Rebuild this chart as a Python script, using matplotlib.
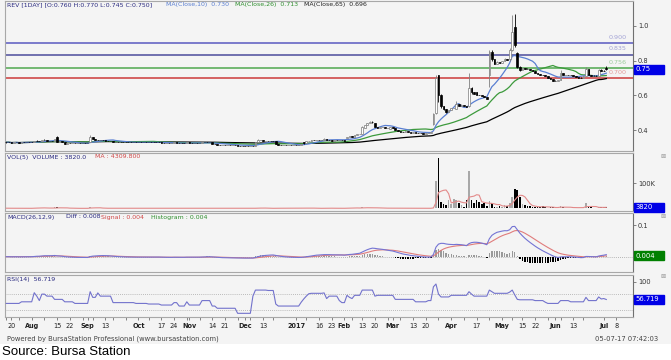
import matplotlib.pyplot as plt
from matplotlib.patches import Rectangle
import numpy as np
import pandas as pd

W, H = 671, 360

# Bursa trading calendar, Jul 2016 - Jul 2017
holidays = ['2016-08-31', '2016-09-12', '2016-09-16', '2016-10-03', '2016-12-12',
            '2016-12-26', '2017-01-02', '2017-01-30', '2017-01-31', '2017-02-09',
            '2017-05-01', '2017-05-10', '2017-06-12', '2017-06-26', '2017-06-27']
days = pd.bdate_range('2016-07-18', '2017-07-04')
days = days[~days.isin(pd.to_datetime(holidays))]
all_days = days.append(pd.date_range('2017-07-05', '2017-07-14'))

# daily prices in sen
opens = [33, 33, 33, 32.5, 33, 33, 32.5, 33, 33, 33, 33,
         33, 34, 34, 33.5, 34.5, 34.5, 34, 34, 34, 36,
         33, 33.5, 33, 32, 32.5, 32.5, 32.5, 32.5, 32.5, 32.5,
         32.5, 32.5, 33, 36, 35, 34.5, 34.5, 34.5, 34.5, 34,
         34, 33.5, 33, 33, 33, 33, 33, 33, 33, 33,
         33, 33, 33, 33, 33, 33, 33, 33, 33, 33,
         33, 32.5, 32.5, 32.5, 32.5, 32.5, 33, 32.5, 32.5, 32.5,
         32.5, 33, 32.5, 32.5, 32.5, 32.5, 32.5, 33, 33, 33,
         33, 32, 32, 31.5, 31.5, 31.5, 31.5, 31.5, 31.5, 31.5,
         31.5, 31, 31, 31, 31, 31, 31, 31, 33, 34.5,
         34.5, 34, 34, 34, 34, 34, 32, 31.5, 31.5, 31.5,
         31.5, 31.5, 31.5, 31.5, 31.5, 31.5, 33, 32.5, 33.5, 34,
         34.5, 34.5, 34.5, 34.5, 34.5, 35, 34.5, 34.5, 34, 34.5,
         34.5, 34.5, 34.5, 35.5, 36, 36.5, 36, 37, 37.5, 38,
         41, 43, 44, 44.5, 44, 42, 41.5, 42, 42, 41.5,
         40.5, 42, 41.5, 40, 39.5, 39, 39, 39.5, 39, 38.5,
         39, 38.5, 38.5, 38.5, 38, 38.5, 38.5, 43.5, 50, 71.5,
         60, 54, 52, 50.5, 51.5, 52.5, 52, 55, 54, 54.5,
         54, 54, 64.5, 62, 62, 60.5, 60, 59.5, 59, 72,
         85, 81, 78, 79, 78.5, 80, 81, 81, 86, 99.5,
         84.5, 76.5, 74.5, 75.5, 75, 75, 74.5, 74, 73, 72.5,
         72, 71.5, 71, 70, 69.5, 68.5, 68.5, 69, 73, 72,
         71.5, 71.5, 71.5, 71, 70.5, 70, 70, 71, 75, 71.5,
         71, 71, 71, 74.5, 74, 76]
highs = [33, 33, 33, 33, 33, 33, 33, 33, 33, 33, 33,
         34, 34.5, 34, 34.5, 35, 34.5, 34, 34, 35, 36.5,
         33.5, 33.5, 33, 32.5, 32.5, 32.5, 32.5, 32.5, 32.5, 32.5,
         32.5, 32.5, 37, 36, 35, 34.5, 34.5, 34.5, 34.5, 34,
         34, 33.5, 33, 33, 33, 33, 33, 33, 33, 33,
         33, 33, 33, 33, 33, 33, 33, 33, 33, 33,
         33, 32.5, 32.5, 32.5, 32.5, 33, 33, 32.5, 32.5, 32.5,
         33, 33, 32.5, 32.5, 32.5, 32.5, 33, 33, 33, 33,
         33, 32, 32, 31.5, 31.5, 31.5, 31.5, 31.5, 31.5, 31.5,
         31.5, 31, 31, 31, 31, 31, 31, 33, 35, 34.5,
         34.5, 34, 34, 34, 34, 34, 32, 31.5, 31.5, 31.5,
         31.5, 31.5, 31.5, 31.5, 31.5, 32, 33, 33.5, 34, 34.5,
         34.5, 34.5, 34.5, 34.5, 35.5, 35, 34.5, 34.5, 34.5, 34.5,
         34.5, 34.5, 34.5, 36, 36.5, 36.5, 37, 37.5, 38, 42.5,
         43, 44, 45, 45, 44, 42, 42, 42, 42, 41.5,
         42, 42, 41.5, 40, 39.5, 39, 39.5, 39.5, 39, 39,
         39, 38.5, 38.5, 38.5, 38.5, 38.5, 39, 50, 72, 72,
         61, 54, 52, 51.5, 52.5, 53, 56.5, 55, 55, 54.5,
         54, 73, 65, 62, 62, 60.5, 60, 59.5, 59, 86,
         86, 81, 79.5, 79, 80, 81.5, 81, 87, 106, 107,
         85, 77, 76, 75.5, 75.5, 75, 74.5, 74, 73, 72.5,
         72, 71.5, 71, 70, 69.5, 69, 69, 74.5, 73, 72,
         72, 72, 71.5, 71, 70.5, 70.5, 71, 76.5, 75, 71.5,
         71.5, 71.5, 75, 75, 74.5, 77]
lows = [32.5, 33, 32.5, 32.5, 33, 32.5, 32.5, 33, 33, 33, 33,
        33, 34, 33.5, 33.5, 34.5, 34, 34, 34, 34, 33,
        33, 33, 32, 32, 32.5, 32.5, 32.5, 32.5, 32.5, 32.5,
        32.5, 32.5, 33, 35, 34.5, 34.5, 34.5, 34.5, 34, 34,
        33.5, 33, 33, 33, 33, 33, 33, 33, 33, 33,
        33, 33, 33, 33, 33, 33, 33, 33, 33, 33,
        32.5, 32.5, 32.5, 32.5, 32.5, 32.5, 32.5, 32.5, 32.5, 32.5,
        32.5, 32.5, 32.5, 32.5, 32.5, 32.5, 32.5, 33, 33, 33,
        32, 32, 31.5, 31.5, 31.5, 31.5, 31.5, 31.5, 31.5, 31.5,
        31, 31, 31, 31, 31, 31, 31, 31, 33, 34.5,
        34, 34, 34, 34, 34, 32, 31.5, 31.5, 31.5, 31.5,
        31.5, 31.5, 31.5, 31.5, 31.5, 31.5, 32, 32.5, 33.5, 34,
        34.5, 34.5, 34.5, 34.5, 34.5, 34.5, 34.5, 34, 34, 34.5,
        34.5, 34.5, 34, 35.5, 36, 36, 36, 37, 37.5, 38,
        41, 43, 44, 44, 42, 41.5, 41.5, 42, 41.5, 41,
        40.5, 41.5, 40, 39.5, 39, 39, 39, 39, 38.5, 38.5,
        38.5, 38.5, 38.5, 38, 38, 38.5, 38.5, 43, 49, 56,
        53, 51.5, 50, 50.5, 51.5, 52.5, 52, 54, 54, 54,
        53.5, 53.5, 61, 61, 60, 60, 59.5, 59, 58, 65,
        80, 78, 78, 78.5, 78.5, 80, 80.5, 80, 85.5, 88,
        76, 74, 74.5, 75, 75, 74.5, 74, 73, 72.5, 72,
        71.5, 71, 70, 69.5, 68.5, 68, 68.5, 69, 72, 71.5,
        71.5, 71.5, 71, 70.5, 70, 70, 70, 71, 71.5, 71,
        71, 71, 71, 74, 74, 74.5]
closes = [33, 33, 32.5, 33, 33, 32.5, 33, 33, 33, 33, 33,
          34, 34, 33.5, 34.5, 34.5, 34, 34, 34, 35, 33,
          33.5, 33, 32, 32.5, 32.5, 32.5, 32.5, 32.5, 32.5, 32.5,
          32.5, 32.5, 36, 35, 34.5, 34.5, 34.5, 34.5, 34, 34,
          33.5, 33, 33, 33, 33, 33, 33, 33, 33, 33,
          33, 33, 33, 33, 33, 33, 33, 33, 33, 33,
          32.5, 32.5, 32.5, 32.5, 32.5, 33, 32.5, 32.5, 32.5, 32.5,
          33, 32.5, 32.5, 32.5, 32.5, 32.5, 33, 33, 33, 33,
          32, 32, 31.5, 31.5, 31.5, 31.5, 31.5, 31.5, 31.5, 31.5,
          31, 31, 31, 31, 31, 31, 31, 33, 34.5, 34.5,
          34, 34, 34, 34, 34, 32, 31.5, 31.5, 31.5, 31.5,
          31.5, 31.5, 31.5, 31.5, 31.5, 32, 32.5, 33.5, 34, 34.5,
          34.5, 34.5, 34.5, 34.5, 35, 34.5, 34.5, 34, 34.5, 34.5,
          34.5, 34.5, 34, 36, 36.5, 36, 37, 37.5, 38, 42,
          43, 44, 44.5, 44.5, 42, 41.5, 42, 42, 41.5, 41,
          42, 41.5, 40, 39.5, 39, 39, 39.5, 39, 38.5, 39,
          38.5, 38.5, 38.5, 38, 38.5, 38.5, 39, 49, 70, 60,
          54, 52, 50.5, 51.5, 52.5, 53, 55, 54, 54.5, 54,
          53.5, 64, 62, 61, 60.5, 60, 59.5, 59, 58, 85,
          81, 78, 79, 78.5, 80, 81, 80.5, 86, 96.5, 89,
          76.5, 74.5, 75.5, 75, 75, 74.5, 74, 73, 72.5, 72,
          71.5, 71, 70, 69.5, 68.5, 68.5, 69, 73, 72, 71.5,
          71.5, 71.5, 71, 70.5, 70, 70, 71, 75, 71.5, 71,
          71, 71, 74.5, 74, 74, 75]
# daily volume, thousands
volume_k = [1, 0.5, 1, 0.5, 0.5, 1, 0.5, 0.5, 0.5, 0.5, 1,
            3, 2, 1, 3, 2, 1, 1, 0.5, 4, 5,
            2, 1, 2, 1, 0.5, 0.5, 0.5, 0.5, 0.5, 0.5,
            0.5, 0.5, 6, 3, 2, 1, 1, 0.5, 1, 0.5,
            1, 1, 0.5, 0.5, 0.5, 0.5, 0.5, 0.5, 0.5, 0.5,
            0.5, 0.5, 0.5, 0.5, 0.5, 0.5, 0.5, 0.5, 0.5, 0.5,
            1, 0.5, 0.5, 0.5, 0.5, 1, 1, 0.5, 0.5, 0.5,
            1, 1, 0.5, 0.5, 0.5, 0.5, 1, 0.5, 0.5, 0.5,
            1, 0.5, 1, 0.5, 0.5, 0.5, 0.5, 0.5, 0.5, 0.5,
            1, 0.5, 0.5, 0.5, 0.5, 0.5, 0.5, 2, 3, 1,
            1, 0.5, 0.5, 0.5, 0.5, 2, 1, 0.5, 0.5, 0.5,
            0.5, 0.5, 0.5, 0.5, 0.5, 1, 2, 2, 1, 1,
            0.5, 0.5, 0.5, 0.5, 2, 1, 0.5, 1, 1, 0.5,
            0.5, 0.5, 1, 3, 2, 1, 2, 2, 2, 4,
            3, 3, 2, 2, 3, 2, 1, 1, 1, 1,
            2, 1, 2, 1, 1, 0.5, 1, 1, 1, 0.5,
            1, 0.5, 0.5, 1, 0.5, 0.5, 1, 7, 107, 197,
            27, 19, 13, 34, 17, 38, 33, 23, 13, 6,
            34, 146, 34, 23, 33, 26, 17, 20, 10, 30,
            23, 7, 7, 10, 6, 15, 8, 20, 44, 77,
            74, 44, 17, 15, 10, 8, 6, 7, 5, 6,
            10, 4, 3, 5, 4, 3, 4, 10, 5, 3,
            3, 3, 4, 3, 3, 3, 4, 23, 5, 4,
            3, 2.5, 7.5, 3.8, 3.93, 3.82]
rsi = [47, 47, 47, 47, 47, 47, 51, 51, 51, 51, 51,
       73.5, 65, 54, 70, 70, 65, 65, 65, 57, 57,
       57, 57, 51, 51, 51, 51, 47, 47, 47, 47,
       47, 47, 76, 62, 62, 73, 65, 65, 65, 65,
       65, 49, 49, 49, 49, 49, 49, 49, 49, 49,
       47, 47, 47, 47, 47, 45.5, 45.5, 45.5, 45.5, 45.5,
       43, 43, 43, 43, 43, 49, 49, 40.5, 40.5, 40.5,
       51, 43, 43, 43, 43, 43, 54, 54, 54, 54,
       40.5, 40.5, 35, 35, 35, 35, 35, 35, 35, 35,
       22.5, 22.5, 22.5, 22.5, 22.5, 22.5, 65, 80, 80, 80,
       80, 80, 79, 79, 79, 45.5, 40.5, 40.5, 40.5, 40.5,
       40.5, 40.5, 40.5, 40.5, 40.5, 50, 58, 65, 71, 72,
       72, 72, 72, 72, 73, 59, 65, 65, 65, 65,
       54, 49, 49, 67, 62, 59, 67, 67, 67, 80,
       80, 80, 80, 80, 65, 67, 67, 67, 67, 67,
       67, 67, 57, 57, 57, 57, 57, 57, 57, 57,
       51, 51, 51, 51, 51, 54, 54, 88, 95, 70,
       63, 63, 63, 63, 67, 67, 67, 67, 67, 67,
       67, 76, 70, 65, 65, 65, 65, 65, 65, 80,
       76, 72, 72, 72, 72, 72, 72, 75, 80, 68,
       57, 56, 56, 56, 56, 56, 56, 54, 54, 54,
       54, 50, 47, 47, 47, 47, 47, 54, 54, 54,
       54, 51, 51, 51, 51, 51, 51, 62, 54, 54,
       54, 54, 63, 58, 59, 56.719]

levels = [0.900, 0.835, 0.756, 0.700]
level_colors = ['#5a5ac0', '#4c4c9c', '#4fa84f', '#cc3a3a']
level_text_colors = ['#a4a4d6', '#a4a4d6', '#9ccc9c', '#e49a9a']

tick_dates = ['2016-07-20', '2016-08-01', '2016-08-15', '2016-08-22', '2016-09-01',
              '2016-09-13', '2016-10-04', '2016-10-17', '2016-10-24', '2016-11-01',
              '2016-11-14', '2016-11-21', '2016-12-01', '2016-12-13', '2017-01-03',
              '2017-01-16', '2017-01-23', '2017-02-01', '2017-02-13', '2017-02-20',
              '2017-03-01', '2017-03-13', '2017-03-20', '2017-04-03', '2017-04-17',
              '2017-05-02', '2017-05-15', '2017-05-22', '2017-06-01', '2017-06-13',
              '2017-07-03', '2017-07-08']
tick_labels = ['20', 'Aug', '15', '22', 'Sep', '13', 'Oct', '17', '24', 'Nov', '14',
               '21', 'Dec', '13', '2017', '16', '23', 'Feb', '13', '20', 'Mar', '13',
               '20', 'Apr', '17', 'May', '15', '22', 'Jun', '13', 'Jul', '8']

o = np.array(opens) / 100
hi = np.array(highs) / 100
lo = np.array(lows) / 100
c = np.array(closes) / 100
vol = np.array(volume_k) * 1000
x = np.arange(len(c))

close = pd.Series(c)
ma10 = close.rolling(10, min_periods=1).mean()
ma26 = close.rolling(26, min_periods=1).mean()
ma65 = close.rolling(65, min_periods=1).mean()
vol_ma = pd.Series(vol).rolling(5, min_periods=1).mean()
diff = close.ewm(span=12, adjust=False).mean() - close.ewm(span=26, adjust=False).mean()
signal = diff.ewm(span=9, adjust=False).mean()
hist = diff - signal

up = c > o
pos = {d: i for i, d in enumerate(all_days)}
xt = [pos[pd.Timestamp(d)] for d in tick_dates]
minor = [i for i, d in enumerate(all_days[:len(c)]) if d.weekday() == 0 and i not in xt]

fig = plt.figure(figsize=(W / 100, H / 100), dpi=100)
fig.patches.append(Rectangle((0, 1 - 344 / H), 1, 344 / H, transform=fig.transFigure,
                             fc='#f4f4f4', ec='none', zorder=-5))
NAVY = '#2a2a80'


def panel(top, bottom, ylim):
    ax = fig.add_axes([5 / W, 1 - bottom / H, 628 / W, (bottom - top) / H])
    ax.set_facecolor('#f4f4f4')
    for sp in ax.spines.values():
        sp.set_color('#a8a8a8')
        sp.set_linewidth(0.8)
    ax.spines['right'].set_color('#707070')
    ax.yaxis.tick_right()
    ax.tick_params(axis='y', direction='out', length=2, width=0.6, colors='#707070',
                   labelcolor='#333333', labelsize=4.8, pad=1.5)
    ax.tick_params(axis='x', which='both', bottom=False, labelbottom=False)
    ax.set_xlim(-0.5, 246.5)
    ax.set_ylim(*ylim)
    return ax


def value_box(ax, y, text, color, ax_h):
    y0, y1 = ax.get_ylim()
    h = 9 / ax_h * (y1 - y0)
    ax.add_patch(Rectangle((1.0015, y - h / 2), 30 / 628, h, transform=ax.get_yaxis_transform(),
                           fc=color, ec=color, clip_on=False, zorder=10))
    ax.text(1.0015 + 2 / 628, y, text, transform=ax.get_yaxis_transform(), ha='left',
            va='center', color='white', fontsize=4.9, zorder=11, clip_on=False)


def ftext(px, py, s, color=NAVY, size=4.5, **kw):
    fig.text(px / W, 1 - py / H, s, color=color, fontsize=size, va='center', ha='left', **kw)


# price panel
ax1 = panel(1, 151, (0.28, 1.143))
for lv, lc, tc in zip(levels, level_colors, level_text_colors):
    ax1.axhline(lv, color=lc, lw=1.1, zorder=1)
    ax1.annotate(f'{lv:.3f}', xy=(0.99, lv), xycoords=ax1.get_yaxis_transform(),
                 xytext=(0, 4.3), textcoords='offset points', ha='right', va='center',
                 color=tc, fontsize=4.6)
ax1.plot(x, ma65, color='black', lw=0.9, zorder=2)
ax1.plot(x, ma26, color='#3c9a3c', lw=0.9, zorder=2)
ax1.plot(x, ma10, color='#5a7fd2', lw=0.9, zorder=2)
ax1.vlines(x, lo, hi, colors=np.where(up, '#808080', 'black'), lw=0.6, zorder=3)
ax1.bar(x, np.abs(c - o), bottom=np.minimum(o, c), width=0.65,
        color=np.where(up, 'white', 'black'), edgecolor=np.where(up, '#7a7a7a', 'black'),
        linewidth=0.5, zorder=4)
ax1.set_yticks([0.4, 0.6, 0.8, 1.0], ['0.4', '0.6', '0.8', '1.0'])
value_box(ax1, c[-1], f'{c[-1]:.2f}', '#0000e6', 150)

# volume panel
ax2 = panel(153, 211, (-10000, 218000))
ax2.bar(x, vol, width=0.65, color=np.where(up, '#a8a8a8', 'black'), zorder=3)
ax2.plot(x, vol_ma, color='#e38a8a', lw=0.8, zorder=4)
ax2.set_yticks([0, 100000], ['', '100K'])
value_box(ax2, vol[-1], f'{vol[-1]:.0f}', '#0000e6', 58)

# MACD panel
ax3 = panel(213, 272, (-0.0483, 0.138))
ax3.axhline(0, color='#a0a0a0', lw=0.6, ls=(0, (1, 1.5)), zorder=1)
ax3.bar(x, hist, width=0.55, color=np.where(hist >= 0, '#9a9a9a', 'black'), zorder=2)
ax3.plot(x, signal, color='#e07c7c', lw=0.8, zorder=3)
ax3.plot(x, diff, color='#7474d4', lw=0.8, zorder=4)
ax3.set_yticks([0.1], ['0.1'])
value_box(ax3, hist.iloc[-1], '0.004', '#008000', 59)

# RSI panel
ax4 = panel(275, 317, (13.4, 117.3))
for lv in [70, 30]:
    ax4.axhline(lv, color='#a8a8a8', lw=0.6, ls=(0, (1, 1.5)), zorder=1)
ax4.plot(x, rsi, color='#7272cc', lw=0.8, zorder=3)
ax4.set_yticks([100], ['100'])
value_box(ax4, rsi[-1], f'{rsi[-1]:.3f}', '#0000e6', 42)
ax4.set_xticks(xt, tick_labels)
ax4.set_xticks(minor, minor=True)
ax4.tick_params(axis='x', which='both', bottom=True, labelbottom=True, direction='out',
                length=2, width=0.6, colors='#707070', labelcolor='#222222',
                labelsize=4.7, pad=2.5)
for lab in ax4.get_xticklabels():
    if not lab.get_text().isdigit() or lab.get_text() == '2017':
        lab.set_fontweight('bold')

# panel headers
ftext(7, 4.5, 'REV [1DAY] [O:0.760 H:0.770 L:0.745 C:0.750]')
ftext(166, 4.5, 'MA(Close,10)  0.730', color='#5a7fd2')
ftext(235, 4.5, 'MA(Close,26)  0.713', color='#2f8f2f')
ftext(304, 4.5, 'MA(Close,65)  0.696', color='#222222')
ftext(7, 157, 'VOL(5)  VOLUME : 3820.0')
ftext(95, 157, 'MA : 4309.800', color='#d04848')
ftext(7, 217, 'MACD(26,12,9)')
ftext(66, 217, 'Diff : 0.008')
ftext(101, 217, 'Signal : 0.004', color='#d04848')
ftext(151, 217, 'Histogram : 0.004', color='#2f8f2f')
ftext(7, 280, 'RSI(14)  56.719')
for py in [156, 216, 277]:
    ftext(660, py, '\u22a0', color='#9a9a9a', size=4.5)

ftext(7, 338.5, 'Powered by BursaStation Professional (www.bursastation.com)', color='#444444', size=4.9)
fig.text(658 / W, 1 - 339 / H, '05-07-17 07:42:03', color='#444444', fontsize=4.9,
         ha='right', va='center')
fig.text(2 / W, 1 - 352 / H, 'Source: Bursa Station', color='black', fontsize=9.5,
         family='Liberation Sans', ha='left', va='center')

fig.savefig('out.png', dpi=100, facecolor='white')
